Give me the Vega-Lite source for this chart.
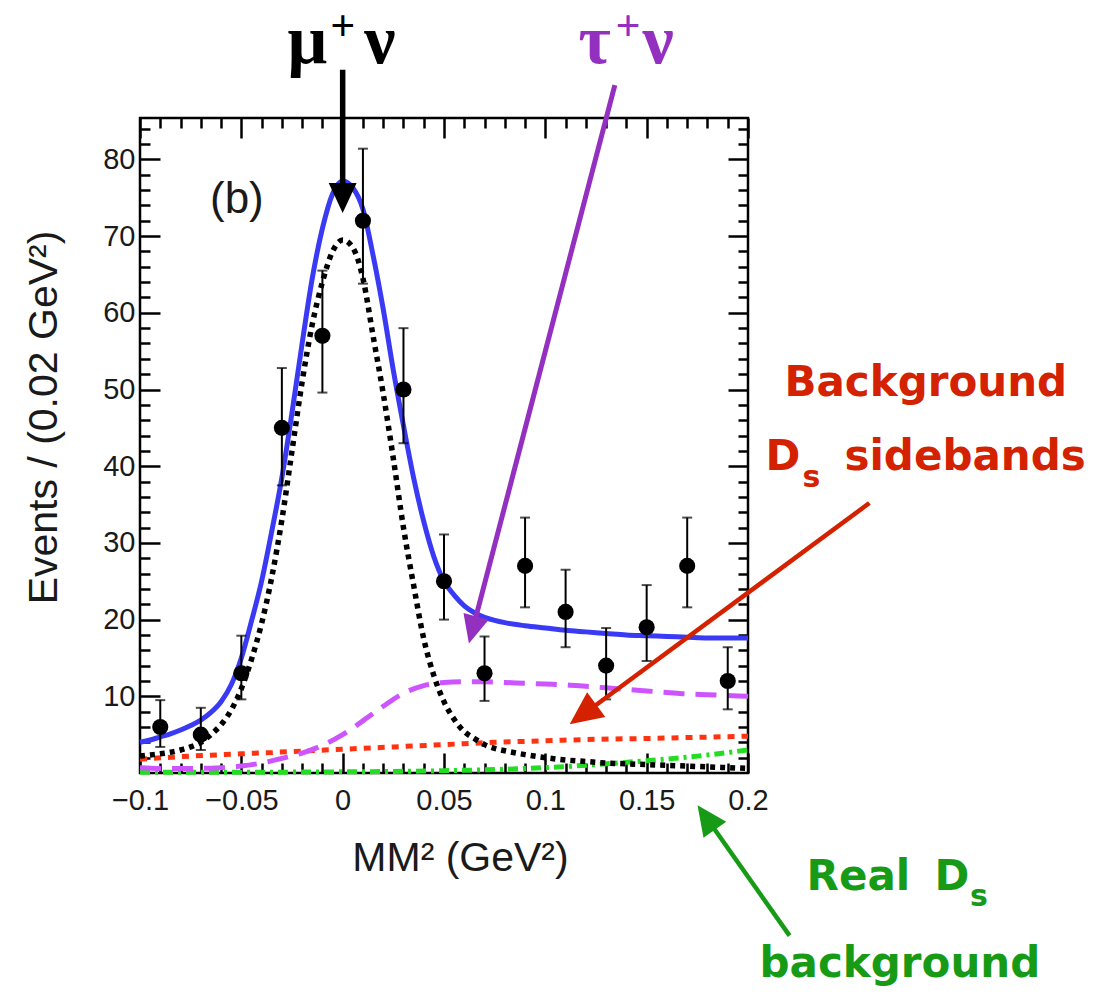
{
  "$schema": "https://vega.github.io/schema/vega-lite/v6.json",
  "width": 608,
  "height": 655,
  "autosize": "none",
  "padding": {"left": 140, "top": 118, "right": 362, "bottom": 226},
  "background": "white",
  "config": {
    "view": {"stroke": "black", "strokeWidth": 2.5},
    "axis": {"grid": false, "domain": false, "tickColor": "black", "tickWidth": 2.5, "labelFontSize": 29}
  },
  "resolve": {"axis": {"x": "independent", "y": "independent"}},
  "datasets": {
    "points": [
      {"x": -0.09, "y": 6, "lo": 3.4, "hi": 9.5},
      {"x": -0.07, "y": 5, "lo": 3.0, "hi": 8.5},
      {"x": -0.05, "y": 13, "lo": 9.6, "hi": 17.9},
      {"x": -0.03, "y": 45, "lo": 37.5, "hi": 52.8},
      {"x": -0.01, "y": 57, "lo": 49.6, "hi": 65.5},
      {"x": 0.01, "y": 72, "lo": 63.8, "hi": 81.4},
      {"x": 0.03, "y": 50, "lo": 43.0, "hi": 58.0},
      {"x": 0.05, "y": 25, "lo": 20.0, "hi": 31.1},
      {"x": 0.07, "y": 13, "lo": 9.4, "hi": 17.8},
      {"x": 0.09, "y": 27, "lo": 21.6, "hi": 33.3},
      {"x": 0.11, "y": 21, "lo": 16.4, "hi": 26.5},
      {"x": 0.13, "y": 14, "lo": 9.6, "hi": 18.9},
      {"x": 0.15, "y": 19, "lo": 14.6, "hi": 24.5},
      {"x": 0.17, "y": 27, "lo": 21.6, "hi": 33.3},
      {"x": 0.19, "y": 12, "lo": 8.3, "hi": 16.4}
    ],
    "total": [
      {"x": -0.1, "y": 4.0}, {"x": -0.095, "y": 4.3}, {"x": -0.09, "y": 4.7}, {"x": -0.085, "y": 5.1},
      {"x": -0.08, "y": 5.6}, {"x": -0.075, "y": 6.2}, {"x": -0.07, "y": 6.9}, {"x": -0.065, "y": 7.9},
      {"x": -0.06, "y": 9.3}, {"x": -0.055, "y": 11.5}, {"x": -0.05, "y": 15.0}, {"x": -0.045, "y": 19.8},
      {"x": -0.04, "y": 25.0}, {"x": -0.035, "y": 31.5}, {"x": -0.03, "y": 38.5}, {"x": -0.025, "y": 47.0},
      {"x": -0.02, "y": 56.0}, {"x": -0.015, "y": 64.5}, {"x": -0.01, "y": 71.0}, {"x": -0.005, "y": 75.5},
      {"x": 0, "y": 77.2}, {"x": 0.005, "y": 76.3}, {"x": 0.01, "y": 73.5}, {"x": 0.015, "y": 67.5},
      {"x": 0.02, "y": 60.5}, {"x": 0.025, "y": 52.5}, {"x": 0.03, "y": 45.3}, {"x": 0.035, "y": 38.5},
      {"x": 0.04, "y": 32.8}, {"x": 0.045, "y": 28.2}, {"x": 0.05, "y": 25.0}, {"x": 0.055, "y": 23.2},
      {"x": 0.06, "y": 21.8}, {"x": 0.065, "y": 20.9}, {"x": 0.07, "y": 20.3}, {"x": 0.075, "y": 19.9},
      {"x": 0.08, "y": 19.6}, {"x": 0.09, "y": 19.2}, {"x": 0.1, "y": 18.9}, {"x": 0.11, "y": 18.6},
      {"x": 0.12, "y": 18.4}, {"x": 0.13, "y": 18.2}, {"x": 0.14, "y": 18.0}, {"x": 0.15, "y": 17.9},
      {"x": 0.16, "y": 17.8}, {"x": 0.17, "y": 17.7}, {"x": 0.18, "y": 17.6}, {"x": 0.19, "y": 17.6},
      {"x": 0.2, "y": 17.6}
    ],
    "signal": [
      {"x": -0.1, "y": 2.2}, {"x": -0.095, "y": 2.35}, {"x": -0.09, "y": 2.5}, {"x": -0.085, "y": 2.7},
      {"x": -0.08, "y": 3.0}, {"x": -0.075, "y": 3.4}, {"x": -0.07, "y": 4.0}, {"x": -0.065, "y": 5.0},
      {"x": -0.06, "y": 6.3}, {"x": -0.055, "y": 8.2}, {"x": -0.05, "y": 11.0}, {"x": -0.045, "y": 14.8},
      {"x": -0.04, "y": 19.5}, {"x": -0.035, "y": 25.5}, {"x": -0.03, "y": 33.0}, {"x": -0.025, "y": 42.0},
      {"x": -0.02, "y": 51.0}, {"x": -0.015, "y": 58.5}, {"x": -0.01, "y": 64.0}, {"x": -0.005, "y": 68.0},
      {"x": 0, "y": 69.5}, {"x": 0.005, "y": 68.5}, {"x": 0.01, "y": 64.5}, {"x": 0.015, "y": 57.0},
      {"x": 0.02, "y": 49.5}, {"x": 0.025, "y": 41.0}, {"x": 0.03, "y": 32.0}, {"x": 0.035, "y": 24.5},
      {"x": 0.04, "y": 17.5}, {"x": 0.045, "y": 12.7}, {"x": 0.05, "y": 9.3}, {"x": 0.055, "y": 7.0},
      {"x": 0.06, "y": 5.4}, {"x": 0.065, "y": 4.5}, {"x": 0.07, "y": 3.7}, {"x": 0.075, "y": 3.2},
      {"x": 0.08, "y": 2.9}, {"x": 0.09, "y": 2.4}, {"x": 0.1, "y": 2.0}, {"x": 0.11, "y": 1.7},
      {"x": 0.12, "y": 1.5}, {"x": 0.13, "y": 1.3}, {"x": 0.14, "y": 1.2}, {"x": 0.15, "y": 1.1},
      {"x": 0.16, "y": 1.0}, {"x": 0.17, "y": 0.9}, {"x": 0.18, "y": 0.8}, {"x": 0.19, "y": 0.7},
      {"x": 0.2, "y": 0.6}
    ],
    "tau": [
      {"x": -0.1, "y": 0.7}, {"x": -0.09, "y": 0.6}, {"x": -0.08, "y": 0.6}, {"x": -0.07, "y": 0.6},
      {"x": -0.06, "y": 0.7}, {"x": -0.05, "y": 0.9}, {"x": -0.04, "y": 1.3}, {"x": -0.03, "y": 1.9},
      {"x": -0.02, "y": 2.6}, {"x": -0.01, "y": 3.6}, {"x": 0, "y": 5.0}, {"x": 0.01, "y": 6.8},
      {"x": 0.02, "y": 8.7}, {"x": 0.03, "y": 10.4}, {"x": 0.04, "y": 11.4}, {"x": 0.05, "y": 11.8},
      {"x": 0.06, "y": 11.9}, {"x": 0.07, "y": 11.9}, {"x": 0.08, "y": 11.8}, {"x": 0.09, "y": 11.7},
      {"x": 0.1, "y": 11.6}, {"x": 0.11, "y": 11.5}, {"x": 0.12, "y": 11.3}, {"x": 0.13, "y": 11.1},
      {"x": 0.14, "y": 10.9}, {"x": 0.15, "y": 10.7}, {"x": 0.16, "y": 10.5}, {"x": 0.17, "y": 10.3},
      {"x": 0.18, "y": 10.2}, {"x": 0.19, "y": 10.1}, {"x": 0.2, "y": 10.0}
    ],
    "sideband": [
      {"x": -0.1, "y": 1.8}, {"x": -0.075, "y": 2.2}, {"x": -0.05, "y": 2.5}, {"x": -0.025, "y": 2.8},
      {"x": 0, "y": 3.1}, {"x": 0.025, "y": 3.4}, {"x": 0.05, "y": 3.7}, {"x": 0.075, "y": 4.0},
      {"x": 0.1, "y": 4.2}, {"x": 0.125, "y": 4.4}, {"x": 0.15, "y": 4.5}, {"x": 0.175, "y": 4.65},
      {"x": 0.2, "y": 4.8}
    ],
    "realds": [
      {"x": -0.1, "y": 0.1}, {"x": -0.05, "y": 0.1}, {"x": 0, "y": 0.15}, {"x": 0.025, "y": 0.2},
      {"x": 0.05, "y": 0.3}, {"x": 0.075, "y": 0.45}, {"x": 0.1, "y": 0.7}, {"x": 0.125, "y": 1.1},
      {"x": 0.15, "y": 1.6}, {"x": 0.175, "y": 2.2}, {"x": 0.2, "y": 3.0}
    ],
    "arrows": [
      {"arrow": "mu", "x": 0.0, "y": 91.7, "x2": 0.0, "y2": 75.0, "tx": 0.0, "ty": 73.0},
      {"arrow": "tau", "x": 0.1343, "y": 89.7, "x2": 0.0642, "y2": 18.8, "tx": 0.0623, "ty": 16.9},
      {"arrow": "side", "x": 0.2599, "y": 35.2, "x2": 0.118, "y2": 7.5, "tx": 0.112, "ty": 6.35},
      {"arrow": "real", "x": 0.2205, "y": -21.2, "x2": 0.1794, "y2": -5.8, "tx": 0.1751, "ty": -4.2}
    ],
    "notes": [
      {"group": "b", "x": -0.0522, "y": 74.7, "text": "(b)"},
      {"group": "mu", "x": -0.0174, "y": 92.6, "text": "μ"},
      {"group": "mu", "x": 0.0184, "y": 92.6, "text": "ν"},
      {"group": "muplus", "x": 0.0, "y": 97.3, "text": "+"},
      {"group": "tau", "x": 0.1243, "y": 92.6, "text": "τ"},
      {"group": "tau", "x": 0.1557, "y": 92.6, "text": "ν"},
      {"group": "tauplus", "x": 0.1408, "y": 97.3, "text": "+"},
      {"group": "red", "x": 0.218, "y": 49.1, "text": "Background"},
      {"group": "red", "x": 0.2086, "y": 39.5, "text": "D"},
      {"group": "redsub", "x": 0.2269, "y": 37.3, "text": "s"},
      {"group": "red", "x": 0.2476, "y": 39.5, "text": "sidebands"},
      {"group": "green", "x": 0.2289, "y": -15.3, "text": "Real"},
      {"group": "green", "x": 0.292, "y": -15.3, "text": "D"},
      {"group": "greensub", "x": 0.3095, "y": -17.3, "text": "s"},
      {"group": "green", "x": 0.2057, "y": -26.6, "text": "background"}
    ]
  },
  "layer": [
    {
      "data": {"name": "realds"},
      "mark": {"type": "line", "color": "#22dd22", "strokeWidth": 5, "strokeDash": [10, 5, 3, 5], "interpolate": "monotone"},
      "encoding": {
        "x": {"field": "x", "type": "quantitative", "scale": {"domain": [-0.1, 0.2], "nice": false, "zero": false},
          "axis": {"orient": "top", "values": [-0.1, -0.09, -0.08, -0.07, -0.06, -0.05, -0.04, -0.03, -0.02, -0.01, 0, 0.01, 0.02, 0.03, 0.04, 0.05, 0.06, 0.07, 0.08, 0.09, 0.1, 0.11, 0.12, 0.13, 0.14, 0.15, 0.16, 0.17, 0.18, 0.19, 0.2],
            "tickSize": {"condition": {"test": "round(datum.value * 100) % 5 === 0", "value": -20}, "value": -10}, "labels": false, "title": null}},
        "y": {"field": "y", "type": "quantitative", "scale": {"domain": [0, 85.4], "nice": false, "zero": false},
          "axis": {"orient": "right", "values": [2, 4, 6, 8, 10, 12, 14, 16, 18, 20, 22, 24, 26, 28, 30, 32, 34, 36, 38, 40, 42, 44, 46, 48, 50, 52, 54, 56, 58, 60, 62, 64, 66, 68, 70, 72, 74, 76, 78, 80, 82, 84],
            "tickSize": {"condition": {"test": "datum.value % 10 === 0", "value": -20}, "value": -10}, "labels": false, "title": null}}
      }
    },
    {
      "data": {"name": "sideband"},
      "mark": {"type": "line", "color": "#ff3311", "strokeWidth": 5, "strokeDash": [7, 7], "interpolate": "monotone"},
      "encoding": {
        "x": {"field": "x", "type": "quantitative", "scale": {"domain": [-0.1, 0.2], "nice": false, "zero": false},
          "axis": {"orient": "bottom", "values": [-0.1, -0.09, -0.08, -0.07, -0.06, -0.05, -0.04, -0.03, -0.02, -0.01, 0, 0.01, 0.02, 0.03, 0.04, 0.05, 0.06, 0.07, 0.08, 0.09, 0.1, 0.11, 0.12, 0.13, 0.14, 0.15, 0.16, 0.17, 0.18, 0.19, 0.2],
            "format": "~g", "labelExpr": "round(datum.value * 100) % 5 === 0 ? datum.label : ''", "labelFlush": false, "labelOverlap": false,
            "labelFont": "Liberation Sans", "labelColor": "#1a1a1a",
            "tickSize": {"condition": {"test": "round(datum.value * 100) % 5 === 0", "value": -20}, "value": -10}, "labelPadding": 33,
            "title": "MM² (GeV²)", "titleFont": "Liberation Sans", "titleFontSize": 41, "titleFontWeight": "normal", "titleColor": "#1a1a1a",
            "titleX": 320, "titleY": 85, "titleAlign": "center", "titleBaseline": "middle"}},
        "y": {"field": "y", "type": "quantitative", "scale": {"domain": [0, 85.4], "nice": false, "zero": false},
          "axis": {"orient": "left", "values": [2, 4, 6, 8, 10, 12, 14, 16, 18, 20, 22, 24, 26, 28, 30, 32, 34, 36, 38, 40, 42, 44, 46, 48, 50, 52, 54, 56, 58, 60, 62, 64, 66, 68, 70, 72, 74, 76, 78, 80, 82, 84],
            "format": "d", "labelExpr": "datum.value % 10 === 0 ? datum.label : ''", "labelFlush": false, "labelOverlap": false,
            "labelFont": "Liberation Sans", "labelColor": "#1a1a1a",
            "tickSize": {"condition": {"test": "datum.value % 10 === 0", "value": -20}, "value": -10}, "labelPadding": 25,
            "title": "Events / (0.02 GeV²)", "titleFont": "Liberation Sans", "titleFontSize": 41, "titleFontWeight": "normal", "titleColor": "#1a1a1a",
            "titleX": -96, "titleY": 299, "titleAngle": -90, "titleAlign": "center", "titleBaseline": "middle"}}
      }
    },
    {
      "data": {"name": "tau"},
      "mark": {"type": "line", "color": "#cc55ff", "strokeWidth": 5, "strokeDash": [21, 11], "interpolate": "monotone"},
      "encoding": {
        "x": {"field": "x", "type": "quantitative", "scale": {"domain": [-0.1, 0.2], "nice": false, "zero": false}, "axis": null},
        "y": {"field": "y", "type": "quantitative", "scale": {"domain": [0, 85.4], "nice": false, "zero": false}, "axis": null}
      }
    },
    {
      "data": {"name": "signal"},
      "mark": {"type": "line", "color": "black", "strokeWidth": 5.5, "strokeDash": [5, 5], "interpolate": "monotone"},
      "encoding": {
        "x": {"field": "x", "type": "quantitative", "scale": {"domain": [-0.1, 0.2], "nice": false, "zero": false}, "axis": null},
        "y": {"field": "y", "type": "quantitative", "scale": {"domain": [0, 85.4], "nice": false, "zero": false}, "axis": null}
      }
    },
    {
      "data": {"name": "total"},
      "mark": {"type": "line", "color": "#3a3af5", "strokeWidth": 5, "interpolate": "monotone"},
      "encoding": {
        "x": {"field": "x", "type": "quantitative", "scale": {"domain": [-0.1, 0.2], "nice": false, "zero": false}, "axis": null},
        "y": {"field": "y", "type": "quantitative", "scale": {"domain": [0, 85.4], "nice": false, "zero": false}, "axis": null}
      }
    },
    {
      "data": {"name": "points"},
      "mark": {"type": "rule", "color": "black", "strokeWidth": 2},
      "encoding": {
        "x": {"field": "x", "type": "quantitative", "scale": {"domain": [-0.1, 0.2], "nice": false, "zero": false}, "axis": null},
        "y": {"field": "lo", "type": "quantitative", "scale": {"domain": [0, 85.4], "nice": false, "zero": false}, "axis": null},
        "y2": {"field": "hi"}
      }
    },
    {
      "data": {"name": "points"},
      "mark": {"type": "tick", "orient": "horizontal", "color": "black", "size": 10, "thickness": 2},
      "encoding": {
        "x": {"field": "x", "type": "quantitative", "scale": {"domain": [-0.1, 0.2], "nice": false, "zero": false}, "axis": null},
        "y": {"field": "lo", "type": "quantitative", "scale": {"domain": [0, 85.4], "nice": false, "zero": false}, "axis": null}
      }
    },
    {
      "data": {"name": "points"},
      "mark": {"type": "tick", "orient": "horizontal", "color": "black", "size": 10, "thickness": 2},
      "encoding": {
        "x": {"field": "x", "type": "quantitative", "scale": {"domain": [-0.1, 0.2], "nice": false, "zero": false}, "axis": null},
        "y": {"field": "hi", "type": "quantitative", "scale": {"domain": [0, 85.4], "nice": false, "zero": false}, "axis": null}
      }
    },
    {
      "data": {"name": "points"},
      "mark": {"type": "point", "filled": true, "shape": "circle", "size": 260, "color": "black", "opacity": 1},
      "encoding": {
        "x": {"field": "x", "type": "quantitative", "scale": {"domain": [-0.1, 0.2], "nice": false, "zero": false}, "axis": null},
        "y": {"field": "y", "type": "quantitative", "scale": {"domain": [0, 85.4], "nice": false, "zero": false}, "axis": null}
      }
    },
    {
      "data": {"name": "notes"},
      "transform": [{"filter": "datum.group === 'b'"}],
      "mark": {"type": "text", "font": "Liberation Sans", "fontSize": 44, "color": "#1a1a1a", "align": "center", "baseline": "middle"},
      "encoding": {
        "x": {"field": "x", "type": "quantitative", "scale": {"domain": [-0.1, 0.2], "nice": false, "zero": false}, "axis": null},
        "y": {"field": "y", "type": "quantitative", "scale": {"domain": [0, 85.4], "nice": false, "zero": false}, "axis": null},
        "text": {"field": "text"}
      }
    },
    {
      "data": {"name": "arrows"},
      "transform": [{"filter": "datum.arrow === 'mu'"}],
      "mark": {"type": "rule", "color": "black", "strokeWidth": 5.5},
      "encoding": {
        "x": {"field": "x", "type": "quantitative", "scale": {"domain": [-0.1, 0.2], "nice": false, "zero": false}, "axis": null},
        "y": {"field": "y", "type": "quantitative", "scale": {"domain": [0, 85.4], "nice": false, "zero": false}, "axis": null},
        "x2": {"field": "x2"}, "y2": {"field": "y2"}
      }
    },
    {
      "data": {"name": "arrows"},
      "transform": [{"filter": "datum.arrow === 'mu'"}],
      "mark": {"type": "point", "filled": true, "shape": "M0,0L-0.93,-2L0.93,-2Z", "size": 900, "angle": 0, "color": "black", "opacity": 1},
      "encoding": {
        "x": {"field": "tx", "type": "quantitative", "scale": {"domain": [-0.1, 0.2], "nice": false, "zero": false}, "axis": null},
        "y": {"field": "ty", "type": "quantitative", "scale": {"domain": [0, 85.4], "nice": false, "zero": false}, "axis": null}
      }
    },
    {
      "data": {"name": "arrows"},
      "transform": [{"filter": "datum.arrow === 'tau'"}],
      "mark": {"type": "rule", "color": "#9430c0", "strokeWidth": 5},
      "encoding": {
        "x": {"field": "x", "type": "quantitative", "scale": {"domain": [-0.1, 0.2], "nice": false, "zero": false}, "axis": null},
        "y": {"field": "y", "type": "quantitative", "scale": {"domain": [0, 85.4], "nice": false, "zero": false}, "axis": null},
        "x2": {"field": "x2"}, "y2": {"field": "y2"}
      }
    },
    {
      "data": {"name": "arrows"},
      "transform": [{"filter": "datum.arrow === 'tau'"}],
      "mark": {"type": "point", "filled": true, "shape": "M0,0L-0.93,-2L0.93,-2Z", "size": 784, "angle": 14.8, "color": "#9430c0", "opacity": 1},
      "encoding": {
        "x": {"field": "tx", "type": "quantitative", "scale": {"domain": [-0.1, 0.2], "nice": false, "zero": false}, "axis": null},
        "y": {"field": "ty", "type": "quantitative", "scale": {"domain": [0, 85.4], "nice": false, "zero": false}, "axis": null}
      }
    },
    {
      "data": {"name": "arrows"},
      "transform": [{"filter": "datum.arrow === 'side'"}],
      "mark": {"type": "rule", "color": "#d42200", "strokeWidth": 4.5},
      "encoding": {
        "x": {"field": "x", "type": "quantitative", "scale": {"domain": [-0.1, 0.2], "nice": false, "zero": false}, "axis": null},
        "y": {"field": "y", "type": "quantitative", "scale": {"domain": [0, 85.4], "nice": false, "zero": false}, "axis": null},
        "x2": {"field": "x2"}, "y2": {"field": "y2"}
      }
    },
    {
      "data": {"name": "arrows"},
      "transform": [{"filter": "datum.arrow === 'side'"}],
      "mark": {"type": "point", "filled": true, "shape": "M0,0L-0.93,-2L0.93,-2Z", "size": 1089, "angle": 53.6, "color": "#d42200", "opacity": 1},
      "encoding": {
        "x": {"field": "tx", "type": "quantitative", "scale": {"domain": [-0.1, 0.2], "nice": false, "zero": false}, "axis": null},
        "y": {"field": "ty", "type": "quantitative", "scale": {"domain": [0, 85.4], "nice": false, "zero": false}, "axis": null}
      }
    },
    {
      "data": {"name": "arrows"},
      "transform": [{"filter": "datum.arrow === 'real'"}],
      "mark": {"type": "rule", "color": "#179b17", "strokeWidth": 4.5},
      "encoding": {
        "x": {"field": "x", "type": "quantitative", "scale": {"domain": [-0.1, 0.2], "nice": false, "zero": false}, "axis": null},
        "y": {"field": "y", "type": "quantitative", "scale": {"domain": [0, 85.4], "nice": false, "zero": false}, "axis": null},
        "x2": {"field": "x2"}, "y2": {"field": "y2"}
      }
    },
    {
      "data": {"name": "arrows"},
      "transform": [{"filter": "datum.arrow === 'real'"}],
      "mark": {"type": "point", "filled": true, "shape": "M0,0L-0.93,-2L0.93,-2Z", "size": 900, "angle": 144.7, "color": "#179b17", "opacity": 1},
      "encoding": {
        "x": {"field": "tx", "type": "quantitative", "scale": {"domain": [-0.1, 0.2], "nice": false, "zero": false}, "axis": null},
        "y": {"field": "ty", "type": "quantitative", "scale": {"domain": [0, 85.4], "nice": false, "zero": false}, "axis": null}
      }
    },
    {
      "data": {"name": "notes"},
      "transform": [{"filter": "datum.group === 'mu'"}],
      "mark": {"type": "text", "font": "Liberation Serif", "fontSize": 70, "fontWeight": "bold", "color": "black", "align": "center", "baseline": "alphabetic"},
      "encoding": {
        "x": {"field": "x", "type": "quantitative", "scale": {"domain": [-0.1, 0.2], "nice": false, "zero": false}, "axis": null},
        "y": {"field": "y", "type": "quantitative", "scale": {"domain": [0, 85.4], "nice": false, "zero": false}, "axis": null},
        "text": {"field": "text"}
      }
    },
    {
      "data": {"name": "notes"},
      "transform": [{"filter": "datum.group === 'muplus'"}],
      "mark": {"type": "text", "font": "Liberation Serif", "fontSize": 44, "fontWeight": "bold", "color": "black", "align": "center", "baseline": "middle"},
      "encoding": {
        "x": {"field": "x", "type": "quantitative", "scale": {"domain": [-0.1, 0.2], "nice": false, "zero": false}, "axis": null},
        "y": {"field": "y", "type": "quantitative", "scale": {"domain": [0, 85.4], "nice": false, "zero": false}, "axis": null},
        "text": {"field": "text"}
      }
    },
    {
      "data": {"name": "notes"},
      "transform": [{"filter": "datum.group === 'tau'"}],
      "mark": {"type": "text", "font": "Liberation Serif", "fontSize": 70, "fontWeight": "bold", "color": "#9430c0", "align": "center", "baseline": "alphabetic"},
      "encoding": {
        "x": {"field": "x", "type": "quantitative", "scale": {"domain": [-0.1, 0.2], "nice": false, "zero": false}, "axis": null},
        "y": {"field": "y", "type": "quantitative", "scale": {"domain": [0, 85.4], "nice": false, "zero": false}, "axis": null},
        "text": {"field": "text"}
      }
    },
    {
      "data": {"name": "notes"},
      "transform": [{"filter": "datum.group === 'tauplus'"}],
      "mark": {"type": "text", "font": "Liberation Serif", "fontSize": 44, "fontWeight": "bold", "color": "#9430c0", "align": "center", "baseline": "middle"},
      "encoding": {
        "x": {"field": "x", "type": "quantitative", "scale": {"domain": [-0.1, 0.2], "nice": false, "zero": false}, "axis": null},
        "y": {"field": "y", "type": "quantitative", "scale": {"domain": [0, 85.4], "nice": false, "zero": false}, "axis": null},
        "text": {"field": "text"}
      }
    },
    {
      "data": {"name": "notes"},
      "transform": [{"filter": "datum.group === 'red'"}],
      "mark": {"type": "text", "font": "DejaVu Sans", "fontSize": 42, "fontWeight": "bold", "color": "#d42200", "align": "left", "baseline": "alphabetic"},
      "encoding": {
        "x": {"field": "x", "type": "quantitative", "scale": {"domain": [-0.1, 0.2], "nice": false, "zero": false}, "axis": null},
        "y": {"field": "y", "type": "quantitative", "scale": {"domain": [0, 85.4], "nice": false, "zero": false}, "axis": null},
        "text": {"field": "text"}
      }
    },
    {
      "data": {"name": "notes"},
      "transform": [{"filter": "datum.group === 'redsub'"}],
      "mark": {"type": "text", "font": "DejaVu Sans", "fontSize": 30, "fontWeight": "bold", "color": "#d42200", "align": "left", "baseline": "alphabetic"},
      "encoding": {
        "x": {"field": "x", "type": "quantitative", "scale": {"domain": [-0.1, 0.2], "nice": false, "zero": false}, "axis": null},
        "y": {"field": "y", "type": "quantitative", "scale": {"domain": [0, 85.4], "nice": false, "zero": false}, "axis": null},
        "text": {"field": "text"}
      }
    },
    {
      "data": {"name": "notes"},
      "transform": [{"filter": "datum.group === 'green'"}],
      "mark": {"type": "text", "font": "DejaVu Sans", "fontSize": 42, "fontWeight": "bold", "color": "#179b17", "align": "left", "baseline": "alphabetic"},
      "encoding": {
        "x": {"field": "x", "type": "quantitative", "scale": {"domain": [-0.1, 0.2], "nice": false, "zero": false}, "axis": null},
        "y": {"field": "y", "type": "quantitative", "scale": {"domain": [0, 85.4], "nice": false, "zero": false}, "axis": null},
        "text": {"field": "text"}
      }
    },
    {
      "data": {"name": "notes"},
      "transform": [{"filter": "datum.group === 'greensub'"}],
      "mark": {"type": "text", "font": "DejaVu Sans", "fontSize": 30, "fontWeight": "bold", "color": "#179b17", "align": "left", "baseline": "alphabetic"},
      "encoding": {
        "x": {"field": "x", "type": "quantitative", "scale": {"domain": [-0.1, 0.2], "nice": false, "zero": false}, "axis": null},
        "y": {"field": "y", "type": "quantitative", "scale": {"domain": [0, 85.4], "nice": false, "zero": false}, "axis": null},
        "text": {"field": "text"}
      }
    }
  ]
}
